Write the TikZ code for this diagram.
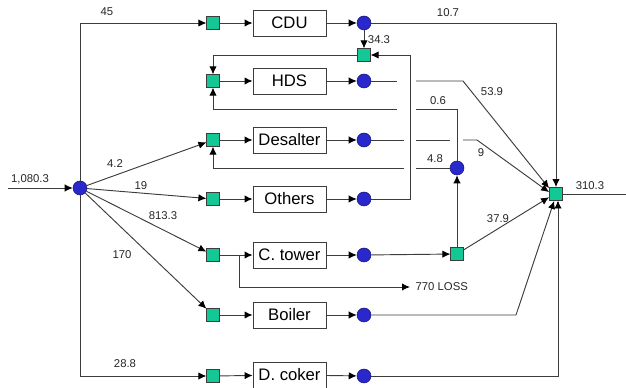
\documentclass[tikz,border=0pt]{standalone}
\usepackage{fontspec}
\setmainfont{Liberation Sans}
\usetikzlibrary{arrows.meta}
\definecolor{sqfill}{RGB}{20,200,150}
\definecolor{cfill}{RGB}{40,40,205}
\definecolor{ln}{RGB}{60,60,60}
\begin{document}
\begin{tikzpicture}[x=0.75pt,y=-0.75pt,
 sq/.style={rectangle,draw=ln,fill=sqfill,minimum size=9.5pt,inner sep=0pt},
 cir/.style={circle,draw=cfill!55!black,fill=cfill,minimum size=10.5pt,inner sep=0pt},
 unit/.style={rectangle,draw=ln,fill=white,minimum width=55pt,minimum height=19.5pt,inner sep=0pt,font=\fontsize{12.5}{14}\selectfont},
 lbl/.style={font=\fontsize{8.5}{10}\selectfont,inner sep=1pt,text=black!85},
 flow/.style={draw=ln,line width=0.7pt},
 arr/.style={flow,-{Latex[length=6pt,width=5.5pt,color=black]}},
]
\useasboundingbox (0,0) rectangle (626,388);

% splitter
\node[cir] (split) at (80,188) {};
\coordinate (in) at (8,188);
\draw[arr] (in) -- (split);

% rows
\node[sq] (sCDU) at (213,23) {};
\node[unit] (bCDU) at (289.5,23) {CDU};
\node[cir] (cCDU) at (364,23) {};
\node[sq] (sHDS) at (213,81) {};
\node[unit] (bHDS) at (289.5,81) {HDS};
\node[cir] (cHDS) at (364,81) {};
\node[sq] (sDes) at (213,140) {};
\node[unit] (bDes) at (289.5,140) {Desalter};
\node[cir] (cDes) at (364,140) {};
\node[sq] (sOth) at (213,199) {};
\node[unit] (bOth) at (289.5,199) {Others};
\node[cir] (cOth) at (364,199) {};
\node[sq] (sCT) at (213,255) {};
\node[unit] (bCT) at (289.5,255) {C. tower};
\node[cir] (cCT) at (364,255) {};
\node[sq] (sBo) at (213,315) {};
\node[unit] (bBo) at (289.5,315) {Boiler};
\node[cir] (cBo) at (364,315) {};
\node[sq] (sDC) at (213,376) {};
\node[unit] (bDC) at (289.5,375) {D. coker};
\node[cir] (cDC) at (364,376) {};

\foreach \r in {CDU,HDS,Des,Oth,CT,Bo,DC}{
  \draw[arr] (s\r) -- (b\r);
  \draw[arr] (b\r) -- (c\r);
}

% auxiliary nodes
\node[sq] (sMix1) at (364,55) {};
\node[cir] (c48) at (457,168) {};
\node[sq] (sCT2) at (457,254) {};
\node[sq,minimum size=10pt] (mix) at (556,194) {};

% splitter outlets
\coordinate (topL) at (80,23);
\coordinate (botL) at (80,376);
\draw[arr] (split) -- (topL) -- (sCDU);
\draw[arr] (split) -- (botL) -- (sDC);
\draw[arr] (split) -- (sDes);
\draw[arr] (split) -- (sOth);
\draw[arr] (split) -- (sCT);
\draw[arr] (split) -- (sBo);

% CDU
\draw[arr] (cCDU) -- (sMix1);
\coordinate (cduR) at (556,23);
\draw[arr] (cCDU) -- (cduR) -- (mix);

% Others return
\coordinate (o1) at (410,199);
\coordinate (o2) at (410,55);
\draw[arr] (cOth) -- (o1) -- (o2) -- (sMix1);
\coordinate (m1) at (213,55);
\draw[arr] (sMix1) -- (m1) -- (sHDS);

% C. tower
\draw[arr] (cCT) -- (sCT2);
\draw[arr] (sCT2) -- (c48);
\draw[arr] (sCT2) -- (mix.205);
\coordinate (lb1) at (239,255);
\coordinate (lb2) at (239,287);
\coordinate (lb3) at (410,287);
\draw[arr] (lb1) -- (lb2) -- (lb3);

% 0.6 return to HDS
\coordinate (r1) at (457,109);
\coordinate (r2) at (416,109);
\coordinate (r3) at (397,109);
\coordinate (r4) at (213,109);
\draw[flow] (c48) -- (r1) -- (r2);
\draw[arr] (r3) -- (r4) -- (sHDS);

% 4.8 return to Desalter
\coordinate (d1) at (416,168);
\coordinate (d2) at (404,168);
\coordinate (d3) at (213,168);
\draw[flow] (c48) -- (d1);
\draw[arr] (d2) -- (d3) -- (sDes);

% HDS out
\coordinate (h1) at (397,81);
\coordinate (h2) at (416,81);
\coordinate (h3) at (463,81);
\draw[flow] (cHDS) -- (h1);
\draw[arr] (h2) -- (h3) -- (mix.140);

% Desalter out
\coordinate (e1) at (404,140);
\coordinate (e2) at (416,140);
\coordinate (e3) at (450,140);
\coordinate (e4) at (463,140);
\coordinate (e5) at (477,140);
\draw[flow] (cDes) -- (e1);
\draw[flow] (e2) -- (e3);
\draw[arr] (e4) -- (e5) -- (mix.165);

% Boiler, D. coker
\coordinate (bo1) at (516,315);
\draw[arr] (cBo) -- (bo1) -- (mix.255);
\coordinate (dc1) at (558,376);
\coordinate (dc2) at (558,200.5);
\draw[arr] (cDC) -- (dc1) -- (dc2);

% output
\coordinate (out) at (626,194);
\draw[flow] (mix) -- (out);

% labels
\node[lbl] (l0) at (30,179) {1,080.3};
\node[lbl] (l1) at (107,12) {45};
\node[lbl] (l2) at (448,13) {10.7};
\node[lbl] (l3) at (379,40) {34.3};
\node[lbl] (l4) at (492,92) {53.9};
\node[lbl] (l5) at (438,101) {0.6};
\node[lbl] (l6) at (481,153) {9};
\node[lbl] (l7) at (435,159) {4.8};
\node[lbl] (l8) at (590,186) {310.3};
\node[lbl] (l9) at (498,219) {37.9};
\node[lbl] (l10) at (115,164) {4.2};
\node[lbl] (l11) at (141,186) {19};
\node[lbl] (l12) at (163,216) {813.3};
\node[lbl] (l13) at (122,255) {170};
\node[lbl] (l14) at (125,364) {28.8};
\node[lbl,anchor=west] (l15) at (414,287) {770 LOSS};
\end{tikzpicture}
\end{document}
